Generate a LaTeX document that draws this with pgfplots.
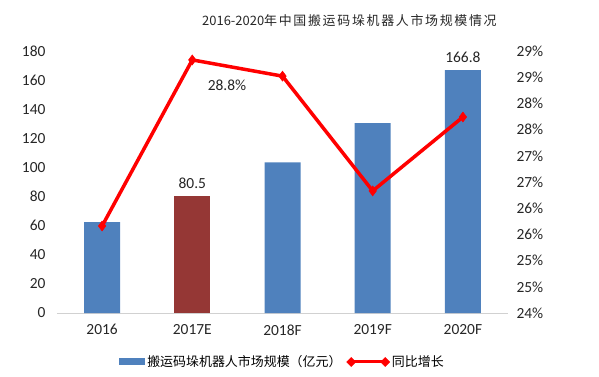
\documentclass[border=0pt]{standalone}
\usepackage{pgfplots}
\pgfplotsset{compat=1.18}
\usepackage{fontspec}
\setmainfont{Carlito}
\newfontfamily\cjk{Noto Sans CJK SC}
\definecolor{barblue}{HTML}{4F81BD}
\definecolor{barred}{HTML}{953735}
\definecolor{linered}{HTML}{FF0000}
\begin{document}
\begin{tikzpicture}
\path[use as bounding box] (-57bp,-64bp) rectangle (542bp,313bp);
\begin{axis}[
  scale only axis, width=451bp, height=262bp,
  xmin=-0.5, xmax=4.5, ymin=0, ymax=180,
  xtick={0,1,2,3,4}, xticklabels={2016,2017E,2018F,2019F,2020F},
  ytick={0,20,40,60,80,100,120,140,160,180},
  axis x line*=bottom, axis y line*=left,
  y axis line style={draw=none},
  x axis line style={draw=black!18, line width=0.8bp, -},
  major tick length=0pt,
  tick label style={font=\fontsize{15.5}{17}\selectfont, text=black!85},
  /pgf/number format/assume math mode=true,
  yticklabel style={xshift=-8bp},
  xticklabel style={yshift=-8bp},
  ybar, bar width=36bp, bar shift=0pt,
  legend style={draw=none, at={(0.5,-0.187)}, anchor=center,
    legend columns=2, font=\cjk\fontsize{13}{15}\selectfont,
    /tikz/every even column/.append style={column sep=3bp},
    inner sep=0pt},
  legend cell align=left,
]
\addplot[fill=barblue, draw=none,
  legend image code/.code={\fill[barblue] (0bp,-3.5bp) rectangle (26bp,3.5bp);}]
  coordinates {(0,62.5) (2,103.5) (3,130.5) (4,166.8)};
\addlegendentry{搬运码垛机器人市场规模（亿元）}
\addplot[fill=barred, draw=none, forget plot] coordinates {(1,80.5)};
\addlegendimage{legend image code/.code={
  \draw[linered, line width=3bp] (0bp,0bp) -- (34bp,0bp);
  \fill[linered] (0bp,-4.5bp) -- (4.5bp,0bp) -- (0bp,4.5bp) -- (-4.5bp,0bp) -- cycle;
  \fill[linered] (34bp,-4.5bp) -- (38.5bp,0bp) -- (34bp,4.5bp) -- (29.5bp,0bp) -- cycle;}}
\addlegendentry{同比增长}
\node[above, font=\fontsize{15.5}{17}\selectfont, text=black!85, yshift=4bp] at (axis cs:1,80.5) {80.5};
\node[above, font=\fontsize{15.5}{17}\selectfont, text=black!85, yshift=4bp] at (axis cs:4,166.8) {166.8};
\end{axis}
\begin{axis}[
  scale only axis, width=451bp, height=262bp,
  xmin=-0.5, xmax=4.5, ymin=24, ymax=29,
  axis x line=none, axis y line*=right,
  y axis line style={draw=none},
  major tick length=0pt,
  ytick={24,24.5,25,25.5,26,26.5,27,27.5,28,28.5,29},
  yticklabels={24\%,25\%,25\%,26\%,26\%,27\%,27\%,28\%,28\%,29\%,29\%},
  tick label style={font=\fontsize{15.5}{17}\selectfont, text=black!85},
  yticklabel style={xshift=5bp},
]
\addplot[linered, line width=3.5bp, mark=diamond*, mark size=5bp,
  mark options={line width=0.5bp, fill=linered}]
  coordinates {(0,25.66) (1,28.83) (2,28.52) (3,26.33) (4,27.74)};
\node[font=\fontsize{15.5}{17}\selectfont, text=black!85] at (axis cs:1.385,28.35) {28.8\%};
\end{axis}
\node[anchor=west, text=black!85, inner sep=0pt] at (145bp,292bp)
  {\cjk\fontsize{13}{15}\selectfont 2016-2020{\addfontfeature{LetterSpace=13}年中国搬运码垛机器人市场规模情况}};
\end{tikzpicture}
\end{document}
